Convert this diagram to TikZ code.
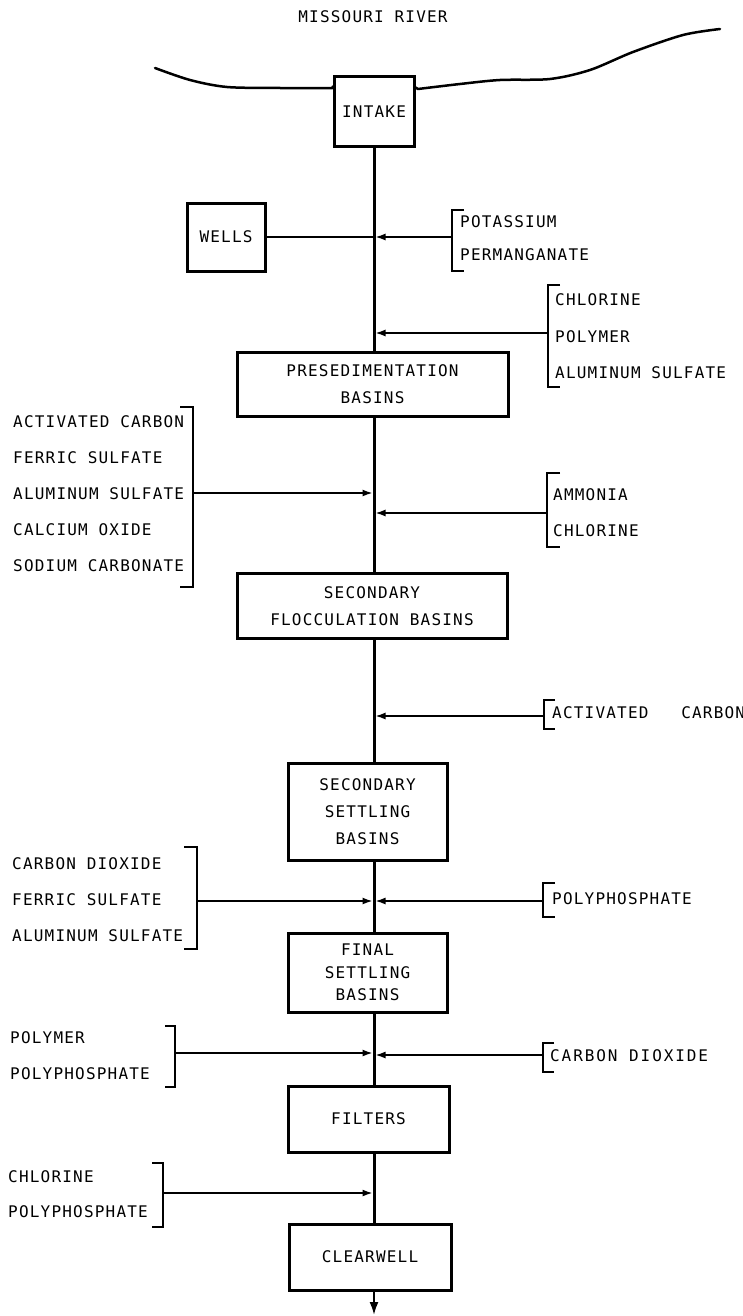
\documentclass[tikz,border=0pt]{standalone}
\usepackage{fontspec}
\usetikzlibrary{arrows.meta}
\newfontfamily\lab[LetterSpace=7.5]{DejaVu Sans Mono}
\newfontfamily\labw[LetterSpace=12]{DejaVu Sans Mono}
\tikzset{
  lbl/.style={font=\lab\fontsize{16}{27}\selectfont, inner sep=0pt, anchor=west},
  box/.style={draw, line width=3pt, inner sep=0pt, align=center, font=\lab\fontsize{16}{27}\selectfont},
  trunk/.style={line width=3pt},
  feed/.style={line width=1.5pt, -{Latex[length=10pt,width=7pt]}, shorten >=1.5pt},
  brk/.style={line width=2.6pt},
  river/.style={line width=2.5pt, line cap=round, line join=round},
}
\begin{document}
\begin{tikzpicture}[x=1pt,y=-1pt]
\useasboundingbox (0,0) rectangle (743,1316);
\coordinate (mx) at (374,0);

% title
\node[lbl, anchor=center] (title) at (373,17) {MISSOURI RIVER};

% boxes
\node[box, minimum width=80pt, minimum height=70pt] (intake) at (374,112) {INTAKE};
\node[box, minimum width=78pt, minimum height=68pt] (wells) at (226,237) {WELLS};
\node[box, minimum width=271pt, minimum height=64pt] (presed) at (372.5,384) {PRESEDIMENTATION\\BASINS};
\node[box, minimum width=270pt, minimum height=65pt] (floc) at (372,606) {SECONDARY\\FLOCCULATION BASINS};
\node[box, minimum width=159pt, minimum height=97pt] (secset) at (367.5,811.5) {SECONDARY\\SETTLING\\BASINS};
\node[box, minimum width=159pt, minimum height=79pt, font=\lab\fontsize{16}{22.5}\selectfont] (final) at (367.5,972.5) {FINAL\\SETTLING\\BASINS};
\node[box, minimum width=161pt, minimum height=66pt] (filters) at (368.5,1119) {FILTERS};
\node[box, minimum width=162pt, minimum height=66pt] (clear) at (370,1257) {CLEARWELL};

% river
\draw[river] plot[smooth] coordinates {(155,68) (190,80) (227,87) (280,88) (333,88)} -- ([yshift=-11pt]intake.north west);
\draw[river] ([yshift=-12pt]intake.north east) -- plot[smooth] coordinates {(418,89) (460,84) (500,80) (550,79) (590,70) (633,52) (683,35) (720,29)};

% trunk
\draw[trunk] (intake.south -| mx) -- (presed.north -| mx);
\draw[trunk] (presed.south -| mx) -- (floc.north -| mx);
\draw[trunk] (floc.south -| mx) -- (secset.north -| mx);
\draw[trunk] (secset.south -| mx) -- (final.north -| mx);
\draw[trunk] (final.south -| mx) -- (filters.north -| mx);
\draw[trunk] (filters.south -| mx) -- (clear.north -| mx);
\coordinate (out) at (374,1315);
\draw[line width=2pt, -{Latex[length=13pt,width=9pt]}] (clear.south -| mx) -- (out);

% wells
\draw[line width=2.2pt] (wells.east) -- (wells.east -| mx);

% potassium permanganate
\draw[brk] (464,210) -- (452,210) -- (452,271) -- (464,271);
\coordinate (b1) at (452,237);
\draw[feed] (b1) -- (b1 -| mx);
\node[lbl] (t1a) at (460,222) {POTASSIUM};
\node[lbl] (t1b) at (460,255) {PERMANGANATE};

% chlorine polymer aluminum sulfate
\draw[brk] (560,285) -- (548,285) -- (548,387) -- (560,387);
\coordinate (b2) at (548,333);
\draw[feed] (b2) -- (b2 -| mx);
\node[lbl] (t2a) at (555,300) {CHLORINE};
\node[lbl] (t2b) at (555,337) {POLYMER};
\node[lbl] (t2c) at (555,373) {ALUMINUM SULFATE};

% left group 1
\draw[brk] (180,407) -- (193,407) -- (193,587) -- (180,587);
\coordinate (b3) at (193,493);
\draw[feed] (b3) -- (b3 -| mx);
\node[lbl] (t3a) at (13,422) {ACTIVATED CARBON};
\node[lbl] (t3b) at (13,458) {FERRIC SULFATE};
\node[lbl] (t3c) at (13,494) {ALUMINUM SULFATE};
\node[lbl] (t3d) at (13,530) {CALCIUM OXIDE};
\node[lbl] (t3e) at (13,566) {SODIUM CARBONATE};

% ammonia chlorine
\draw[brk] (560,473) -- (547,473) -- (547,547) -- (560,547);
\coordinate (b4) at (547,513);
\draw[feed] (b4) -- (b4 -| mx);
\node[lbl] (t4a) at (553,495) {AMMONIA};
\node[lbl] (t4b) at (553,531) {CHLORINE};

% activated carbon
\draw[brk] (555,700) -- (544,700) -- (544,729) -- (555,729);
\coordinate (b5) at (544,716);
\draw[feed] (b5) -- (b5 -| mx);
\node[lbl] (t5) at (552,713) {ACTIVATED\hspace{22pt} CARBON};

% left group 2
\draw[brk] (184,847) -- (197,847) -- (197,949) -- (184,949);
\coordinate (b6) at (197,901);
\draw[feed] (b6) -- (b6 -| mx);
\node[lbl] (t6a) at (12,864) {CARBON DIOXIDE};
\node[lbl] (t6b) at (12,900) {FERRIC SULFATE};
\node[lbl] (t6c) at (12,936) {ALUMINUM SULFATE};

% polyphosphate right
\draw[brk] (555,883) -- (543,883) -- (543,917) -- (555,917);
\coordinate (b7) at (543,901);
\draw[feed] (b7) -- (b7 -| mx);
\node[lbl] (t7) at (552,899) {POLYPHOSPHATE};

% polymer polyphosphate left
\draw[brk] (165,1026) -- (175,1026) -- (175,1087) -- (165,1087);
\coordinate (b8) at (175,1053);
\draw[feed] (b8) -- (b8 -| mx);
\node[lbl] (t8a) at (10,1038) {POLYMER};
\node[lbl] (t8b) at (10,1074) {POLYPHOSPHATE};

% carbon dioxide right
\draw[brk] (554,1043) -- (543,1043) -- (543,1072) -- (554,1072);
\coordinate (b9) at (543,1055);
\draw[feed] (b9) -- (b9 -| mx);
\node[lbl, font=\labw\fontsize{16}{27}\selectfont] (t9) at (550,1056) {CARBON DIOXIDE};

% chlorine polyphosphate left
\draw[brk] (152,1163) -- (163,1163) -- (163,1227) -- (152,1227);
\coordinate (b10) at (163,1193);
\draw[feed] (b10) -- (b10 -| mx);
\node[lbl] (t10a) at (8,1177) {CHLORINE};
\node[lbl] (t10b) at (8,1212) {POLYPHOSPHATE};
\end{tikzpicture}
\end{document}
